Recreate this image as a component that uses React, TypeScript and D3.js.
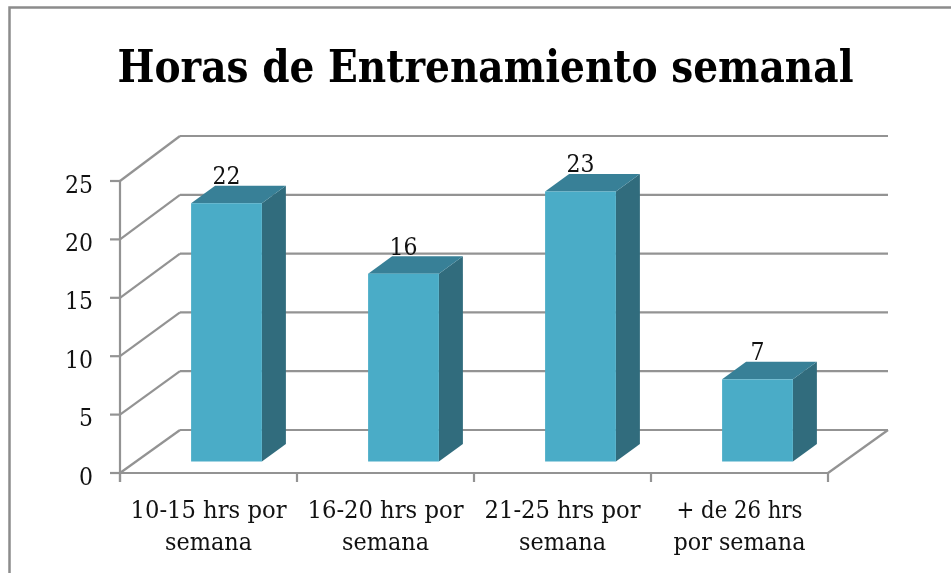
import React from "react";
import * as d3 from "d3";

const titleText = "Horas de Entrenamiento semanal";
const categories = ["10-15 hrs por|semana", "16-20 hrs por|semana", "21-25 hrs por|semana", "+ de 26 hrs|por semana"];
const values = [22, 16, 23, 7];
const yTicks = [0, 5, 10, 15, 20, 25];

const W = 951, H = 573;
const x0 = 120, x1 = 828, y0 = 473, y25 = 181;
const backX = 60;
const grid = "#939393";
const sw = 2.2;
const font = "'DejaVu Serif', serif";

function lineWidth(s: string) {
  // widths (px) of the wrapped label lines
  if (s === "semana") return 87;
  if (s === "por semana") return 132;
  if (s === "+ de 26 hrs") return 126;
  return 156;
}

export default function App() {
  const x = d3.scaleBand<string>().domain(categories).range([x0, x1]);
  const y = d3.scaleLinear().domain([0, 25]).range([y0, y25]);
  const yBack = d3.scaleLinear().domain([0, 25]).range([430, 136]);
  const yBar = d3.scaleLinear().domain([0, 25]).range([461.5, 168]);
  const barW = x.bandwidth() * 0.4;
  const depthX = 24, depthY = -17.5;
  const baseOffX = 18;
  return (
    <svg width={W} height={H} viewBox={`0 0 ${W} ${H}`} style={{ position: "absolute", left: 0, top: 0, display: "block", background: "#fff", filter: "blur(0.5px)" }}>
      <path d={`M${W + 5},7.5 H9.5 V${H + 5}`} fill="none" stroke="#8c8c8c" strokeWidth={2.5} />
      <text x={485.5} y={82} textAnchor="middle" fontFamily={font} fontStretch="condensed" fontWeight="bold" fontSize={44} textLength={736} lengthAdjust="spacingAndGlyphs" fill="#000">{titleText}</text>

      {yTicks.map((t) => (
        <g key={t}>
          <line x1={x0 + backX} x2={x1 + backX} y1={yBack(t)} y2={yBack(t)} stroke={grid} strokeWidth={sw} />
          <line x1={x0} x2={x0 + backX} y1={y(t)} y2={yBack(t)} stroke={grid} strokeWidth={sw} />
          <line x1={x0 - 10} x2={x0} y1={y(t)} y2={y(t)} stroke={grid} strokeWidth={sw} />
          <text x={93} y={y(t) + 11.5} textAnchor="end" fontFamily={font} fontStretch="condensed" fontSize={25} textLength={t >= 10 ? 28 : 14} lengthAdjust="spacingAndGlyphs" fill="#111">{t}</text>
        </g>
      ))}
      <line x1={x1} x2={x1 + backX} y1={y0} y2={yBack(0)} stroke={grid} strokeWidth={sw} />
      <line x1={x0} x2={x0} y1={y25} y2={y0 + 9} stroke={grid} strokeWidth={sw} />
      <line x1={x0} x2={x1} y1={y0} y2={y0} stroke={grid} strokeWidth={sw} />
      {d3.range(categories.length + 1).map((i) => {
        const tx = x0 + i * x.step();
        return <line key={i} x1={tx} x2={tx} y1={y0} y2={y0 + 9} stroke={grid} strokeWidth={sw} />;
      })}

      {categories.map((c, i) => {
        const bx = (x(c) as number) + (x.bandwidth() - barW) / 2 + baseOffX;
        const bBase = yBar(0);
        const bTop = yBar(values[i]);
        return (
          <g key={c}>
            <path d={`M${bx + barW},${bTop} l${depthX},${depthY} V${bBase + depthY} L${bx + barW},${bBase} Z`} fill="#316c7d" />
            <path d={`M${bx},${bTop} l${depthX},${depthY} h${barW} l${-depthX},${-depthY} Z`} fill="#388097" />
            <rect x={bx} y={bTop} width={barW} height={bBase - bTop} fill="#4aacc7" />
            <text x={bx + barW / 2} y={bTop - 19} textAnchor="middle" fontFamily={font} fontStretch="condensed" fontSize={25} textLength={values[i] >= 10 ? 28 : 14} lengthAdjust="spacingAndGlyphs" fill="#111">{values[i]}</text>
          </g>
        );
      })}

      {categories.map((c) => {
        const cx = (x(c) as number) + x.bandwidth() / 2;
        return c.split("|").map((line, j) => (
          <text key={j} x={cx} y={518 + j * 32} textAnchor="middle" fontFamily={font} fontStretch="condensed" fontSize={24} textLength={lineWidth(line)} lengthAdjust="spacingAndGlyphs" fill="#111">{line}</text>
        ));
      })}
    </svg>
  );
}
